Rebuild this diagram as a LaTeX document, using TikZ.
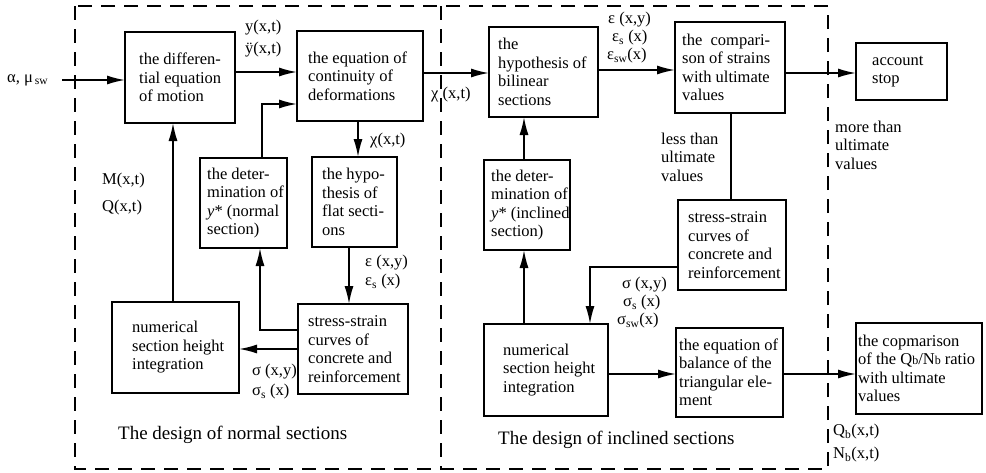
\documentclass[tikz,border=0pt]{standalone}
\usepackage{fontspec}
\setmainfont{Liberation Serif}
\usetikzlibrary{arrows.meta}
\newcommand\mybox[7]{%
  \node[box, minimum width={(#4)-(#2)}, minimum height={(#5)-(#3)}] (#1) at ({((#2)+(#4))/2},{((#3)+(#5))/2}) {};
  \node[txt] (#1t) at ([xshift=#6pt]#1.west) {#7};
}
\newcommand\smb{{\fontsize{12}{14}\selectfont b}}
\begin{document}
\begin{tikzpicture}[x=1pt,y=-1pt,
  box/.style={draw, line width=1.8pt, inner sep=0pt, outer sep=0pt},
  txt/.style={anchor=west, align=left, inner sep=0pt, font=\fontsize{16.5}{18.5}\selectfont},
  lbl/.style={anchor=west, align=left, inner sep=0pt, font=\fontsize{16.5}{18.5}\selectfont},
  captxt/.style={anchor=west, inner sep=0pt, font=\fontsize{19}{22}\selectfont},
  arr/.style={line width=1.6pt, -{Latex[length=18pt,width=9pt]}},
  ln/.style={line width=1.6pt},
  dframe/.style={line width=1.5pt, dash pattern=on 14pt off 9pt},
]
\useasboundingbox (0,0) rectangle (986,472);
% frame
\draw[dframe] (75,6) rectangle (828,469);
\draw[dframe] (441,6) -- (441,469);
% helper coordinates
\coordinate (ain) at (62,80);
\coordinate (h72) at (0,72);
\coordinate (h73) at (0,73);
\coordinate (h70) at (0,70);
\coordinate (h104) at (0,104);
\coordinate (h330) at (0,330);
\coordinate (h349) at (0,349);
\coordinate (h267) at (0,267);
\coordinate (h374) at (0,374);
\coordinate (v173) at (173,0);
\coordinate (v262) at (262,0);
\coordinate (v260) at (260,0);
\coordinate (v358) at (358,0);
\coordinate (v349) at (349,0);
\coordinate (v524) at (524,0);
\coordinate (v731) at (731,0);
\coordinate (v590) at (590,0);
% boxes
\mybox{b1}{125}{32}{235}{123}{14}{the differen-\\tial equation\\of motion}
\mybox{b2}{297}{31}{423}{121}{11}{the equation of\\continuity of\\deformations}
\mybox{b3}{200}{158}{287}{248}{7}{the deter-\\mination of\\\textit{y}* (normal\\section)}
\mybox{b4}{312}{157}{397}{247}{10}{the hypo-\\thesis of\\flat secti-\\ons}
\mybox{b5}{112}{302}{239}{393}{20}{numerical\\section height\\integration}
\mybox{b6}{298}{304}{408}{394}{10}{stress-strain\\curves of\\concrete and\\reinforcement}
\mybox{b7}{489}{27}{598}{117}{9}{the\\hypothesis of\\bilinear\\sections}
\mybox{b8}{484}{160}{570}{250}{7}{the deter-\\mination of\\\textit{y}* (inclined\\section)}
\mybox{b9}{484}{324}{608}{416}{19}{numerical\\section height\\integration}
\mybox{b10}{675}{22}{785}{113}{7}{the\ \ compari-\\son of strains\\with ultimate\\values}
\mybox{b11}{856}{43}{947}{100}{16}{account\\stop}
\mybox{b12}{678}{200}{786}{290}{10}{stress-strain\\curves of\\concrete and\\reinforcement}
\mybox{b13}{676}{328}{783}{417}{3}{the equation of\\balance of the\\triangular ele-\\ment}
\mybox{b14}{856}{323}{982}{414}{2}{the copmarison\\of the Q\smb/N\smb{} ratio\\with ultimate\\values}
% labels
\node[lbl] (la) at (7,80) {α, μ\textsubscript{\,sw}};
\node[lbl] (ly1) at (245,28) {y(x,t)};
\node[lbl] (ly2) at (245,50) {ÿ(x,t)};
\node[lbl] (lm) at (102,181) {M(x,t)};
\node[lbl] (lq) at (102,208) {Q(x,t)};
\node[lbl] (lchi1) at (431,95) {χ (x,t)};
\node[lbl] (lchi2) at (370,141) {χ(x,t)};
\node[lbl] (le1) at (365,263) {ε (x,y)};
\node[lbl] (le2) at (365,282) {ε\textsubscript{s} (x)};
\node[lbl] (ls1) at (252,372) {σ (x,y)};
\node[lbl] (ls2) at (252,392) {σ\textsubscript{s} (x)};
\node[lbl] (re1) at (608,20) {ε (x,y)};
\node[lbl] (re2) at (612,38) {ε\textsubscript{s} (x)};
\node[lbl] (re3) at (607,56) {ε\textsubscript{sw}(x)};
\node[lbl] (less) at (661,157) {less than\\ultimate\\values};
\node[lbl] (more) at (835,145) {more than\\ultimate\\values};
\node[lbl] (rs1) at (622,285) {σ (x,y)};
\node[lbl] (rs2) at (623,303) {σ\textsubscript{s} (x)};
\node[lbl] (rs3) at (617,321) {σ\textsubscript{sw}(x)};
\node[lbl] (lqb) at (833,432) {Q\textsubscript{b}(x,t)};
\node[lbl] (lnb) at (833,455) {N\textsubscript{b}(x,t)};
\node[captxt] (cap1) at (118,435) {The design of normal sections};
\node[captxt] (cap2) at (498,440) {The design of inclined sections};
% connectors
\draw[arr] (ain) -- (b1.west |- ain);
\draw[arr] (b1.east |- h72) -- (b2.west |- h72);
\draw[arr] (b3.north -| v262) |- (b2.west |- h104);
\draw[arr] (b2.east |- h73) -- (b7.west |- h73);
\draw[arr] (b2.south -| v358) -- (b4.north -| v358);
\draw[arr] (b4.south -| v349) -- (b6.north -| v349);
\draw[arr] (b6.west |- h330) -| (b3.south -| v260);
\draw[arr] (b6.west |- h349) -- (b5.east |- h349);
\draw[arr] (b5.north -| v173) -- (b1.south -| v173);
\draw[arr] (b8.north -| v524) -- (b7.south -| v524);
\draw[arr] (b9.north -| v524) -- (b8.south -| v524);
\draw[arr] (b7.east |- h70) -- (b10.west |- h70);
\draw[arr] (b10.east |- h73) -- (b11.west |- h73);
\draw[ln] (b10.south -| v731) -- (b12.north -| v731);
\draw[arr] (b12.west |- h267) -| (b9.north -| v590);
\draw[arr] (b9.east |- h374) -- (b13.west |- h374);
\draw[arr] (b13.east |- h374) -- (b14.west |- h374);
\end{tikzpicture}
\end{document}
